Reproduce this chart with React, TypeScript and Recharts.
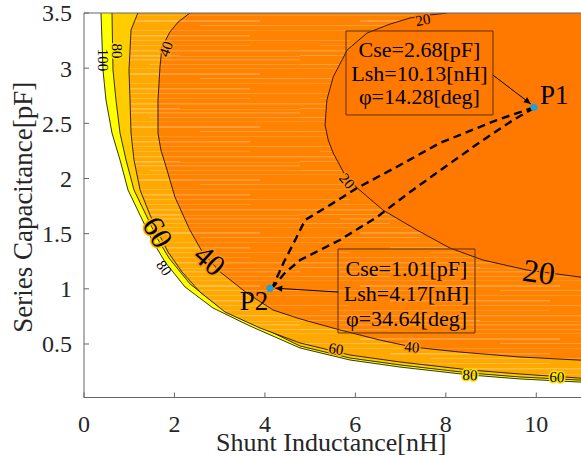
import React from 'react';
import { ComposedChart, Area, Line, XAxis, YAxis, ReferenceDot, ReferenceArea, Label } from 'recharts';

const FONT = '"Liberation Serif", "Times New Roman", Times, serif';

const xTicks = [0, 2, 4, 6, 8, 10];
const yTicks = [0.5, 1, 1.5, 2, 2.5, 3, 3.5];

// contour lines (x = Shunt Inductance nH, y = Series Capacitance pF)
const contour20 = [
  { x: 8.03, y: 3.5 }, { x: 7.65, y: 3.482 }, { x: 7.21, y: 3.455 }, { x: 6.77, y: 3.4 },
  { x: 6.26, y: 3.319 }, { x: 5.82, y: 3.165 }, { x: 5.51, y: 2.92 }, { x: 5.37, y: 2.711 },
  { x: 5.33, y: 2.485 }, { x: 5.4, y: 2.349 }, { x: 5.51, y: 2.231 }, { x: 5.77, y: 2.032 },
  { x: 6.04, y: 1.914 }, { x: 6.61, y: 1.714 }, { x: 7.36, y: 1.533 }, { x: 8.09, y: 1.37 },
  { x: 8.82, y: 1.261 }, { x: 9.79, y: 1.171 }, { x: 11.0, y: 1.105 },
];
const contour40 = [
  { x: 2.34, y: 3.5 }, { x: 2.08, y: 3.418 }, { x: 1.9, y: 3.328 }, { x: 1.725, y: 3.192 },
  { x: 1.68, y: 3.011 }, { x: 1.636, y: 2.711 }, { x: 1.636, y: 2.412 }, { x: 1.7, y: 2.258 },
  { x: 1.79, y: 2.14 }, { x: 2.01, y: 1.832 }, { x: 2.34, y: 1.533 }, { x: 2.63, y: 1.325 },
  { x: 3.01, y: 1.153 }, { x: 3.6, y: 0.962 }, { x: 4.18, y: 0.808 }, { x: 4.78, y: 0.727 },
  { x: 5.66, y: 0.627 }, { x: 6.54, y: 0.536 }, { x: 7.25, y: 0.473 }, { x: 8.31, y: 0.427 },
  { x: 9.64, y: 0.382 }, { x: 11.0, y: 0.353 },
];
const contour60 = [
  { x: 1.19, y: 3.5 }, { x: 1.04, y: 3.346 }, { x: 0.995, y: 2.983 }, { x: 1.017, y: 2.711 },
  { x: 1.04, y: 2.412 }, { x: 1.105, y: 2.168 }, { x: 1.24, y: 1.896 }, { x: 1.46, y: 1.669 },
  { x: 1.636, y: 1.515 }, { x: 1.857, y: 1.334 }, { x: 2.167, y: 1.153 }, { x: 2.565, y: 0.971 },
  { x: 3.117, y: 0.79 }, { x: 3.891, y: 0.645 }, { x: 4.776, y: 0.509 }, { x: 5.881, y: 0.4 },
  { x: 6.986, y: 0.337 }, { x: 8.534, y: 0.264 }, { x: 9.64, y: 0.228 }, { x: 11.0, y: 0.19 },
];
const contour80 = [
  { x: 0.619, y: 3.5 }, { x: 0.641, y: 2.983 }, { x: 0.707, y: 2.711 }, { x: 0.796, y: 2.412 },
  { x: 0.929, y: 2.168 }, { x: 1.105, y: 1.896 }, { x: 1.371, y: 1.669 }, { x: 1.614, y: 1.461 },
  { x: 1.879, y: 1.279 }, { x: 2.344, y: 1.044 }, { x: 2.963, y: 0.844 }, { x: 3.781, y: 0.681 },
  { x: 4.776, y: 0.482 }, { x: 5.881, y: 0.373 }, { x: 6.986, y: 0.31 }, { x: 8.534, y: 0.237 },
  { x: 9.64, y: 0.201 }, { x: 11.0, y: 0.172 },
];
const contour100 = [
  { x: 0.376, y: 3.5 }, { x: 0.42, y: 2.983 }, { x: 0.486, y: 2.711 }, { x: 0.619, y: 2.412 },
  { x: 0.796, y: 2.168 }, { x: 0.973, y: 1.896 }, { x: 1.238, y: 1.669 }, { x: 1.503, y: 1.443 },
  { x: 1.791, y: 1.243 }, { x: 2.233, y: 1.017 }, { x: 2.852, y: 0.826 }, { x: 3.67, y: 0.663 },
  { x: 4.776, y: 0.464 }, { x: 5.881, y: 0.355 }, { x: 6.986, y: 0.291 }, { x: 8.534, y: 0.219 },
  { x: 9.64, y: 0.183 }, { x: 11.0, y: 0.154 },
];

// dashed tuning paths P1 -> P2
const pathUpper = [
  { x: 9.95, y: 2.645 }, { x: 9.13, y: 2.53 }, { x: 7.87, y: 2.322 }, { x: 6.99, y: 2.122 },
  { x: 6.04, y: 1.914 }, { x: 5.44, y: 1.76 }, { x: 4.89, y: 1.624 }, { x: 4.67, y: 1.443 },
  { x: 4.42, y: 1.243 }, { x: 4.18, y: 1.026 },
];
const pathLower = [
  { x: 9.95, y: 2.64 }, { x: 9.49, y: 2.53 }, { x: 8.76, y: 2.331 }, { x: 7.98, y: 2.104 },
  { x: 7.21, y: 1.878 }, { x: 6.48, y: 1.651 }, { x: 5.66, y: 1.443 }, { x: 4.78, y: 1.261 },
  { x: 4.44, y: 1.143 }, { x: 4.18, y: 1.017 },
];

const points = [
  { name: 'P1', x: 9.95, y: 2.645 },
  { name: 'P2', x: 4.11, y: 1.005 },
];
const pointer1 = [{ x: 9.04, y: 2.938 }, { x: 9.88, y: 2.675 }];
const pointer2 = [{ x: 5.62, y: 0.971 }, { x: 4.23, y: 1.006 }];

const boxes = [
  { x1: 5.793, x2: 9.043, y1: 2.576, y2: 3.337 },
  { x1: 5.616, x2: 8.645, y1: 0.6, y2: 1.361 },
];
const boxTexts = [
  { text: 'Cse=2.68[pF]', x: 7.417, y: 3.169 },
  { text: 'Lsh=10.13[nH]', x: 7.417, y: 2.952 },
  { text: 'φ=14.28[deg]', x: 7.417, y: 2.739 },
  { text: 'Cse=1.01[pF]', x: 7.13, y: 1.183 },
  { text: 'Lsh=4.17[nH]', x: 7.13, y: 0.957 },
  { text: 'φ=34.64[deg]', x: 7.13, y: 0.73 },
];
const pointLabels = [
  { text: 'P1', x: 10.4, y: 2.757 },
  { text: 'P2', x: 3.76, y: 0.89 },
];
const contourLabels = [
  { text: '100', x: 0.42, y: 3.074 },
  { text: '80', x: 0.73, y: 3.156 },
  { text: '40', x: 1.813, y: 3.174 },
  { text: '60', x: 1.636, y: 1.515 },
  { text: '80', x: 1.769, y: 1.189 },
  { text: '40', x: 2.786, y: 1.261 },
  { text: '20', x: 7.495, y: 3.437 },
  { text: '20', x: 5.815, y: 1.977 },
  { text: '20', x: 10.06, y: 1.153 },
  { text: '60', x: 5.572, y: 0.455 },
  { text: '40', x: 7.252, y: 0.473 },
  { text: '80', x: 8.534, y: 0.219 },
  { text: '60', x: 10.458, y: 0.201 },
];
const contourLabelStyle = [
  { size: 15, angle: 90, bg: 'none' }, { size: 15, angle: 90, bg: '#FFE000' }, { size: 15, angle: -70, bg: '#FF9A10' },
  { size: 30, angle: 60, bg: '#FFB000' }, { size: 15, angle: 55, bg: 'none' }, { size: 30, angle: 42, bg: '#FF9410' },
  { size: 15, angle: -10, bg: '#FF7800' }, { size: 15, angle: 50, bg: '#FF8A10' }, { size: 32, angle: 8, bg: '#FF8000' },
  { size: 15, angle: 8, bg: '#FFAA08' }, { size: 15, angle: 5, bg: '#FF9A10' }, { size: 15, angle: 3, bg: '#FFE000' }, { size: 15, angle: 2, bg: '#FFE000' },
];

const textShape = (text: string, size: number, angle: number, bg: string) => (p: any) => (
  <text
    x={p.cx}
    y={p.cy}
    transform={`rotate(${angle} ${p.cx} ${p.cy})`}
    textAnchor="middle"
    dominantBaseline="central"
    fontSize={size}
    fontFamily={FONT}
    fill="#000"
    stroke={bg}
    strokeWidth={bg === 'none' ? 0 : 3}
    style={{ paintOrder: 'stroke' }}
  >
    {text}
  </text>
);

const xLabel = (props: any) => {
  const vb = props.viewBox;
  return (
    <text x={vb.x + vb.width / 2 - 1.5} y={vb.y + vb.height - 6} textAnchor="middle" fontSize={26} fontFamily={FONT} fill="#262626">
      Shunt Inductance[nH]
    </text>
  );
};
const yLabel = (props: any) => {
  const vb = props.viewBox;
  const cx = vb.x + 32;
  const cy = vb.y + vb.height / 2 + 2;
  return (
    <text x={cx} y={cy} transform={`rotate(-90 ${cx} ${cy})`} textAnchor="middle" fontSize={27} fontFamily={FONT} fill="#262626">
      Series Capacitance[pF]
    </text>
  );
};

const xTick = (p: any) => (
  <text x={p.x} y={p.y} dy="0.71em" textAnchor="middle" fontSize={24} fontFamily={FONT} fill="#262626">
    {p.payload.value}
  </text>
);
const yTick = (p: any) => (
  <text x={p.x} y={p.y} dy="0.35em" textAnchor="end" fontSize={24} fontFamily={FONT} fill="#262626">
    {p.payload.value}
  </text>
);

const AXIS = '#666666';

const stripes = (id: string, base: string, light: string, rows: number[][]) => (
  <pattern id={id} patternUnits="userSpaceOnUse" x="0" y="0" width="300" height="53">
    <rect x="0" y="0" width="300" height="53" fill={base} />
    {rows.map((r, i) => (
      <rect key={i} x={r[0]} y={r[1]} width={r[2]} height={r[3]} fill={light} fillOpacity={r[4]} />
    ))}
  </pattern>
);

const streakRows = [
  [0, 2, 180, 1, 0.6], [120, 3, 180, 1, 0.4], [40, 6, 260, 1.5, 0.5], [0, 11, 90, 1, 0.7],
  [150, 11, 150, 1, 0.5], [0, 15, 300, 1, 0.35], [60, 20, 200, 2, 0.55], [0, 25, 120, 1, 0.6],
  [200, 25, 100, 1, 0.6], [0, 30, 300, 1, 0.4], [90, 35, 160, 1.5, 0.6], [0, 40, 50, 1, 0.5],
  [130, 40, 170, 1, 0.5], [20, 45, 230, 1, 0.45], [0, 50, 300, 1.5, 0.55],
];

export default function App() {
  return (
    <div style={{ position: 'absolute', left: 0, top: 0, width: 581, height: 457, overflow: 'hidden', background: '#fff', fontFamily: FONT }}>
      <ComposedChart
        layout="vertical"
        width={600}
        height={457}
        margin={{ top: 12, right: 17.5, bottom: 0, left: 0 }}
      >
        <defs>
          <marker id="arrowHead" viewBox="0 0 10 10" refX="10" refY="5" markerWidth="8" markerHeight="7" orient="auto" markerUnits="userSpaceOnUse">
            <path d="M0,0.5 L10,5 L0,9.5 z" fill="#000" />
          </marker>
          {stripes('band2040', '#FF8200', '#FFB060', streakRows)}
          {stripes('band4060', '#FFA800', '#FFD080', streakRows)}
        </defs>
        <XAxis
          type="number"
          domain={[0, 11]}
          ticks={xTicks}
          interval={0}
          allowDataOverflow
          height={59.5}
          tickSize={-5}
          tickMargin={22}
          stroke={AXIS}
          tick={xTick}
        >
          <Label content={xLabel} />
        </XAxis>
        <XAxis
          xAxisId="top"
          orientation="top"
          type="number"
          domain={[0, 11]}
          ticks={xTicks}
          interval={0}
          allowDataOverflow
          height={1}
          tickSize={-5}
          tick={false}
          stroke={AXIS}
        />
        <YAxis
          type="number"
          dataKey="y"
          domain={[0.015, 3.5]}
          ticks={yTicks}
          interval={0}
          allowDataOverflow
          reversed
          width={84}
          tickSize={-5}
          tickMargin={17}
          stroke={AXIS}
          tick={yTick}
        >
          <Label content={yLabel} />
        </YAxis>
        <YAxis
          yAxisId="right"
          orientation="right"
          type="number"
          dataKey="y"
          domain={[0.015, 3.5]}
          ticks={yTicks}
          interval={0}
          allowDataOverflow
          reversed
          width={1}
          tickSize={-5}
          tick={false}
          stroke={AXIS}
        />

        <Area data={contour100} dataKey="x" baseValue={11} type="linear" fill="#FFFF00" fillOpacity={1} stroke="#000" strokeWidth={0.8} dot={false} activeDot={false} isAnimationActive={false} />
        <Area data={contour80} dataKey="x" baseValue={11} type="linear" fill="#FFCC00" fillOpacity={1} stroke="#000" strokeWidth={0.8} dot={false} activeDot={false} isAnimationActive={false} />
        <Area data={contour60} dataKey="x" baseValue={11} type="linear" fill="url(#band4060)" fillOpacity={1} stroke="#000" strokeWidth={0.8} dot={false} activeDot={false} isAnimationActive={false} />
        <Area data={contour40} dataKey="x" baseValue={11} type="linear" fill="url(#band2040)" fillOpacity={1} stroke="#000" strokeWidth={0.8} dot={false} activeDot={false} isAnimationActive={false} />
        <Area data={contour20} dataKey="x" baseValue={11} type="linear" fill="#FF7800" fillOpacity={1} stroke="#000" strokeWidth={0.8} dot={false} activeDot={false} isAnimationActive={false} />

        <Line data={pathUpper} dataKey="x" type="linear" stroke="#000" strokeWidth={2.4} strokeDasharray="8 5" dot={false} activeDot={false} isAnimationActive={false} />
        <Line data={pathLower} dataKey="x" type="linear" stroke="#000" strokeWidth={2.4} strokeDasharray="8 5" dot={false} activeDot={false} isAnimationActive={false} />
        <Line data={pointer1} dataKey="x" type="linear" stroke="#000" strokeWidth={1} markerEnd="url(#arrowHead)" dot={false} activeDot={false} isAnimationActive={false} />
        <Line data={pointer2} dataKey="x" type="linear" stroke="#000" strokeWidth={1} markerEnd="url(#arrowHead)" dot={false} activeDot={false} isAnimationActive={false} />

        {boxes.map((b, i) => (
          <ReferenceArea key={`box${i}`} x1={b.x1} x2={b.x2} y1={b.y1} y2={b.y2} fill="none" fillOpacity={0} stroke="#5a3000" strokeWidth={1} ifOverflow="visible" />
        ))}
        {boxTexts.map((t, i) => (
          <ReferenceDot key={`bt${i}`} x={t.x} y={t.y} r={0} ifOverflow="visible" shape={textShape(t.text, 22, 0, 'none')} />
        ))}
        {contourLabels.map((t, i) => (
          <ReferenceDot key={`cl${i}`} x={t.x} y={t.y} r={0} ifOverflow="visible" shape={textShape(t.text, contourLabelStyle[i].size, contourLabelStyle[i].angle, contourLabelStyle[i].bg)} />
        ))}
        {pointLabels.map((t, i) => (
          <ReferenceDot key={`pl${i}`} x={t.x} y={t.y} r={0} ifOverflow="visible" shape={textShape(t.text, 27, 0, 'none')} />
        ))}
        {points.map((p) => (
          <ReferenceDot key={p.name} x={p.x} y={p.y} r={3.6} fill="#1EA0DC" stroke="none" ifOverflow="visible" />
        ))}
      </ComposedChart>
    </div>
  );
}
